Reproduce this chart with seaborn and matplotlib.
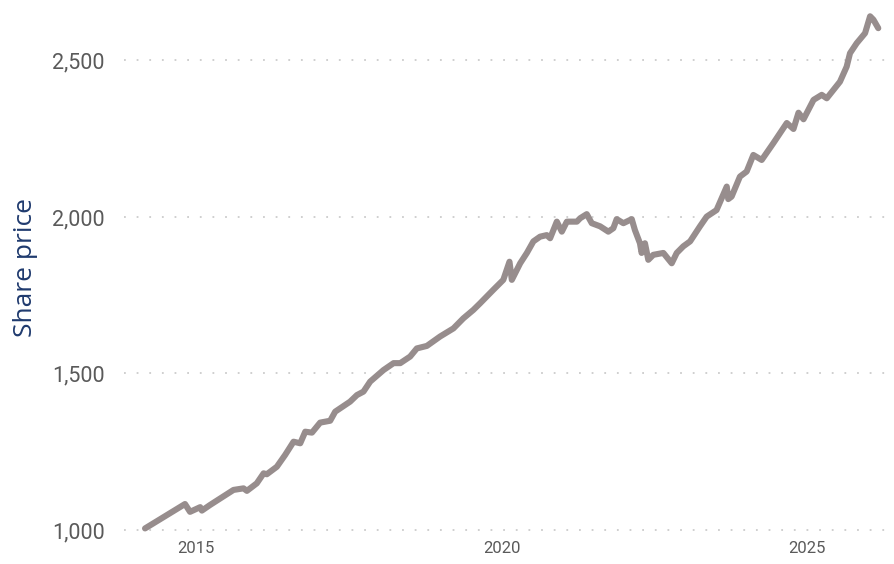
import pandas as pd
import numpy as np
import matplotlib.pyplot as plt
import matplotlib.dates as mdates
from matplotlib.ticker import FuncFormatter
import seaborn as sns

# Valores (fecha, precio)
dates = [
    "2014-03-01", "2014-10-26", "2014-11-25", "2015-01-25", "2015-02-04", "2015-03-25",
    "2015-08-12", "2015-10-11", "2015-10-31", "2015-12-29", "2016-02-08", "2016-02-27",
    "2016-04-27", "2016-06-16", "2016-08-05", "2016-09-14", "2016-10-14", "2016-11-23",
    "2017-01-11", "2017-03-12", "2017-04-11", "2017-07-09", "2017-08-19", "2017-09-27",
    "2017-11-06", "2018-01-25", "2018-03-26", "2018-05-05", "2018-07-03", "2018-08-12",
    "2018-10-11", "2018-12-29", "2019-03-19", "2019-05-17", "2019-07-16", "2019-08-25",
    "2019-11-12", "2020-01-11", "2020-02-17", "2020-03-02", "2020-04-21", "2020-05-31",
    "2020-07-09", "2020-08-18", "2020-09-27", "2020-10-17", "2020-11-26", "2020-12-26",
    "2021-01-25", "2021-03-26", "2021-04-15", "2021-05-24", "2021-06-23", "2021-08-12",
    "2021-09-30", "2021-10-30", "2021-11-19", "2021-12-29", "2022-02-17", "2022-03-08",
    "2022-04-07", "2022-04-17", "2022-05-07", "2022-05-27", "2022-06-26", "2022-08-25",
    "2022-10-14", "2022-11-13", "2022-12-22", "2023-02-01", "2023-04-01", "2023-05-11",
    "2023-07-09", "2023-09-08", "2023-09-17", "2023-10-07", "2023-11-26", "2024-01-05",
    "2024-02-14", "2024-04-04", "2024-06-13", "2024-09-01", "2024-10-11", "2024-11-10",
    "2024-12-10", "2025-02-08", "2025-03-29", "2025-04-28", "2025-07-16", "2025-08-25",
    "2025-09-14", "2025-10-24", "2025-12-13", "2026-01-12", "2026-02-01", "2026-03-02",
]
prices = [
    1005, 1083, 1058, 1073, 1062, 1080,
    1128, 1133, 1125, 1149, 1181, 1178,
    1202, 1240, 1282, 1277, 1314, 1311,
    1343, 1349, 1378, 1410, 1431, 1442,
    1474, 1511, 1533, 1533, 1554, 1580,
    1588, 1618, 1644, 1676, 1703, 1724,
    1767, 1799, 1857, 1799, 1852, 1885,
    1922, 1937, 1942, 1932, 1985, 1953,
    1985, 1985, 1996, 2009, 1980, 1970,
    1953, 1964, 1993, 1980, 1993, 1958,
    1916, 1885, 1916, 1863, 1879, 1885,
    1852, 1885, 1906, 1922, 1970, 2001,
    2022, 2097, 2057, 2065, 2129, 2145,
    2198, 2182, 2236, 2300, 2281, 2333,
    2312, 2374, 2390, 2379, 2432, 2480,
    2523, 2555, 2587, 2641, 2630, 2603,
]
year_ticks = ["2015-01-01", "2020-01-01", "2025-01-01"]
year_labels = ["2015", "2020", "2025"]
price_ticks = [1000, 1500, 2000, 2500]

df = pd.DataFrame({"date": pd.to_datetime(dates), "price": prices})

sns.set_style("white")
plt.rcParams["font.family"] = ["Roboto", "DejaVu Sans"]

fig = plt.figure(figsize=(8.95, 5.64), dpi=100)
ax = fig.add_axes([0.1385, 1 - 535 / 564, 0.8615, 535 / 564])

sns.lineplot(data=df, x="date", y="price", ax=ax, color="#978d8d", linewidth=4.4,
             solid_capstyle="round", solid_joinstyle="round")

ax.set_xlim(pd.Timestamp("2013-10-26"), pd.Timestamp("2026-06-10"))
ax.set_ylim(984, 2693)

ax.set_yticks(price_ticks)
ax.yaxis.set_major_formatter(FuncFormatter(lambda v, p: f"{int(v):,}"))
ax.set_xticks(pd.to_datetime(year_ticks))
ax.set_xticklabels(year_labels)

ax.grid(axis="y", color="#cccccc", linestyle=(0, (1, 6)), linewidth=1.3)
ax.grid(axis="x", visible=False)
for s in ax.spines.values():
    s.set_visible(False)

ax.tick_params(axis="y", length=0, pad=14, labelsize=15.5, labelcolor="#5a5a5a")
ax.tick_params(axis="x", length=0, pad=4, labelsize=12, labelcolor="#5a5a5a")

ax.set_xlabel("")
ax.set_ylabel("Share price", fontsize=19, color="#1f3a6e", family=["Open Sans", "DejaVu Sans"],
              labelpad=10)

plt.savefig("out.png", dpi=100)
